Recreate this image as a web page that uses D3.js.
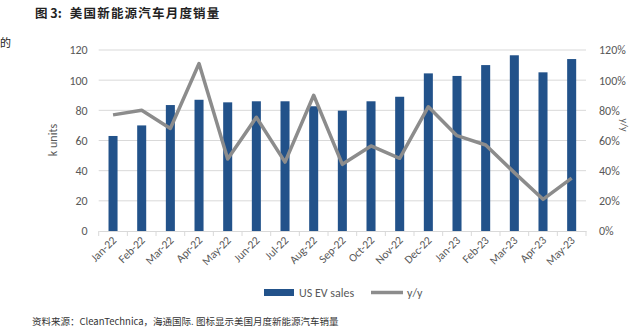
<!DOCTYPE html>
<html><head><meta charset="utf-8">
<script src="https://cdn.jsdelivr.net/npm/d3@7"></script>
<style>body{margin:0;background:#fff}svg{display:block}</style>
</head><body>
<script>
const categories = ["Jan-22","Feb-22","Mar-22","Apr-22","May-22","Jun-22","Jul-22","Aug-22","Sep-22","Oct-22","Nov-22","Dec-22","Jan-23","Feb-23","Mar-23","Apr-23","May-23"];
const evSales = [63,70,83.5,87,85.3,86,86,82.7,79.8,86,89,104.5,102.8,110,116.5,105.2,114];
const yoy = [0.77,0.80,0.68,1.11,0.477,0.754,0.457,0.90,0.442,0.564,0.482,0.824,0.632,0.57,0.387,0.21,0.35];
const leftTicks = [0,20,40,60,80,100,120];
const rightTicks = [0,0.2,0.4,0.6,0.8,1.0,1.2];

const W=630,H=329;
const svg=d3.select("body").append("svg").attr("width",W).attr("height",H);
const font="Calibri, Carlito, 'Liberation Sans', 'Noto Sans', sans-serif";
const cjk="'Noto Sans CJK SC', sans-serif";

const x=d3.scaleBand().domain(categories).range([98.7,586]).paddingInner(0.685).paddingOuter(0.3425);
const y=d3.scaleLinear().domain([0,120]).range([231,50]);
const y2=d3.scaleLinear().domain([0,1.2]).range([231,50]);

// title
const t=svg.append("text").attr("x",35).attr("y",18).attr("font-family",cjk).attr("font-weight","bold").attr("font-size",12.5).attr("fill","#222");
t.append("tspan").text("图 3:");
t.append("tspan").attr("dx",8).attr("letter-spacing",1.2).text("美国新能源汽车月度销量");
svg.append("text").attr("x",0).attr("y",47).attr("font-family",cjk).attr("font-size",11).attr("fill","#222").text("的");

// gridlines
svg.append("g").selectAll("line").data(leftTicks.slice(1)).join("line")
  .attr("x1",98.7).attr("x2",586).attr("y1",d=>y(d)).attr("y2",d=>y(d))
  .attr("stroke","#d9d9d9").attr("stroke-width",1);

// bottom axis
const xa=svg.append("g").attr("transform","translate(0,231)")
  .call(d3.axisBottom(x).tickSize(0).tickPadding(0));
xa.select(".domain").attr("stroke","#d9d9d9");
xa.selectAll(".tick text").remove();
const bandStep=x.step();
const tickPos=d3.range(categories.length+1).map(i=>98.7+i*bandStep);
svg.append("g").selectAll("line").data(tickPos).join("line")
  .attr("x1",d=>d).attr("x2",d=>d).attr("y1",231).attr("y2",236).attr("stroke","#d9d9d9");
svg.append("g").selectAll("text").data(categories).join("text")
  .attr("transform",d=>`translate(${x(d)+x.bandwidth()/2+4},${241}) rotate(-45)`)
  .attr("text-anchor","end").attr("font-family",font).attr("font-size",11.5).attr("fill","#595959").text(d=>d);

// left axis
const la=svg.append("g").attr("transform","translate(98.7,0)")
  .call(d3.axisLeft(y).tickValues(leftTicks).tickSize(0).tickPadding(11));
la.select(".domain").remove();
la.selectAll("text").attr("font-family",font).attr("font-size",12).attr("fill","#595959");
// right axis
const ra=svg.append("g").attr("transform","translate(586,0)")
  .call(d3.axisRight(y2).tickValues(rightTicks).tickSize(0).tickPadding(13).tickFormat(d3.format(".0%")));
ra.select(".domain").remove();
ra.selectAll("text").attr("font-family",font).attr("font-size",12).attr("fill","#595959");

svg.append("text").attr("transform","translate(57,140) rotate(-90)").attr("text-anchor","middle")
  .attr("font-family",font).attr("font-size",12).attr("fill","#595959").text("k units");
svg.append("text").attr("transform","translate(620.5,125) rotate(90)").attr("text-anchor","middle")
  .attr("font-family",font).attr("font-size",10).attr("fill","#595959").text("y/y");

// bars
svg.append("g").selectAll("rect").data(evSales).join("rect")
  .attr("x",(d,i)=>x(categories[i])).attr("width",x.bandwidth())
  .attr("y",d=>y(d)).attr("height",d=>y(0)-y(d)).attr("fill","#22528a");

// line
svg.append("path").datum(yoy)
  .attr("d",d3.line().x((d,i)=>x(categories[i])+x.bandwidth()/2).y(d=>y2(d)))
  .attr("fill","none").attr("stroke","#8c8c8c").attr("stroke-width",3.5).attr("stroke-linejoin","round");

// legend
svg.append("rect").attr("x",264).attr("y",289).attr("width",30).attr("height",7).attr("fill","#22528a");
svg.append("text").attr("x",299).attr("y",297).attr("font-family",font).attr("font-size",12).attr("fill","#595959").text("US EV sales");
svg.append("line").attr("x1",371).attr("x2",403).attr("y1",292.5).attr("y2",292.5).attr("stroke","#8c8c8c").attr("stroke-width",3.5);
svg.append("text").attr("x",407).attr("y",297).attr("font-family",font).attr("font-size",12).attr("fill","#595959").text("y/y");

// footer
svg.append("text").attr("x",32).attr("y",325).attr("font-family",cjk).attr("font-size",9.5).attr("fill","#333")
  .text("资料来源：CleanTechnica，海通国际. 图标显示美国月度新能源汽车销量");
</script>
</body></html>
